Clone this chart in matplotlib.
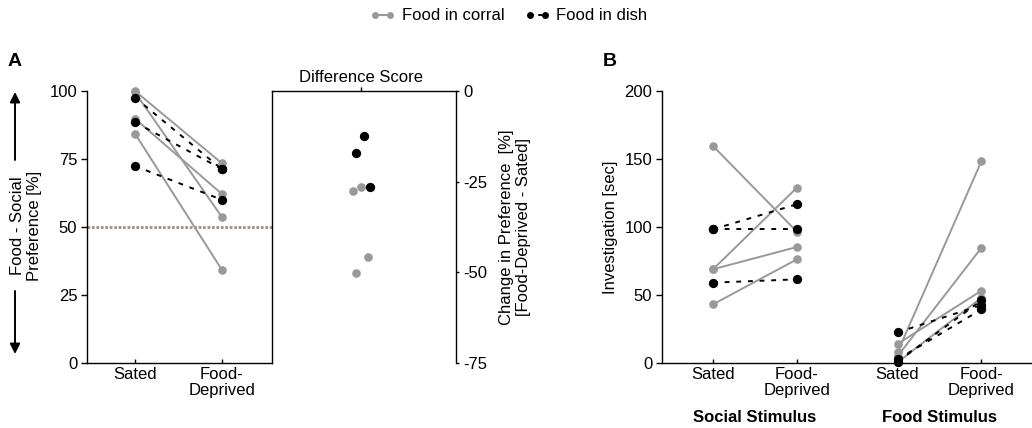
import matplotlib
matplotlib.use("Agg")
import matplotlib.pyplot as plt
from matplotlib.lines import Line2D
from matplotlib.patches import FancyArrowPatch

plt.rcParams['font.family'] = ['Liberation Sans', 'DejaVu Sans']
plt.rcParams['font.size'] = 12

GRAY = "#999999"
BLACK = "#000000"

# panel A: food - social preference [%]
corral_sated = [100.0, 89.8, 99.5, 84.3]
corral_deprived = [73.4, 62.1, 53.6, 34.2]
dish_sated = [97.6, 88.5, 72.4]
dish_deprived = [71.2, 71.3, 60.0]

# horizontal spread of the difference score dots
corral_jitter = [0.0, -0.09, 0.07, -0.06]
dish_jitter = [0.09, -0.06, 0.03]

# panel B: investigation [sec]
soc_corral_sated = [159.6, 68.9, 68.9, 43.1]
soc_corral_deprived = [96.6, 128.9, 85.3, 76.2]
soc_dish_sated = [98.3, 98.3, 59.1]
soc_dish_deprived = [116.7, 98.3, 61.5]
food_corral_sated = [8.0, 5.0, 14.0, 0.5]
food_corral_deprived = [148.5, 84.8, 53.2, 48.0]
food_dish_sated = [22.5, 2.7, 1.0]
food_dish_deprived = [42.6, 39.4, 46.0]

cond_labels = ["Sated", "Food-\nDeprived"]

fig = plt.figure(figsize=(10.32, 4.28), dpi=100)
W, H = 1032, 428
DASH = (0, (2.5, 3.5))


def ax_at(x0, x1, y0, y1):
    return fig.add_axes([x0 / W, 1 - y1 / H, (x1 - x0) / W, (y1 - y0) / H])


def pairs(ax, x, a, b, color, ls, ms):
    for s, d in zip(a, b):
        ax.plot(x, [s, d], color=color, ls=ls, lw=1.4, marker="o", ms=ms,
                mec="none", clip_on=False, zorder=3 if color == BLACK else 2)


# ---- panel A, left
axA = ax_at(87, 272, 91, 363)
pairs(axA, [0, 1], corral_sated, corral_deprived, GRAY, "-", 6.2)
pairs(axA, [0, 1], dish_sated, dish_deprived, BLACK, DASH, 6.7)
axA.axhline(50, color="#a38f7f", lw=2, ls=(0, (1, 0.6)), zorder=1)
axA.set_xlim(-0.552, 1.575)
axA.set_ylim(0, 100)
axA.set_yticks([0, 25, 50, 75, 100])
axA.set_xticks([0, 1])
axA.set_xticklabels(cond_labels, linespacing=1.05)
axA.spines[["top", "right"]].set_visible(False)
axA.tick_params(axis="y", direction="out", length=4, width=1, pad=3)
axA.tick_params(axis="x", direction="in", length=3, width=1, pad=3)

# ---- panel A, difference score
axD = ax_at(272, 456, 91, 363)
for d, s, j in zip(corral_deprived, corral_sated, corral_jitter):
    axD.plot(j, d - s, "o", color=GRAY, ms=6.2, mec="none")
for d, s, j in zip(dish_deprived, dish_sated, dish_jitter):
    axD.plot(j, d - s, "o", color=BLACK, ms=6.7, mec="none")
axD.set_xlim(-0.97, 1.03)
axD.set_ylim(-75, 0)
axD.spines["bottom"].set_visible(False)
axD.yaxis.tick_right()
axD.set_yticks([0, -25, -50, -75])
axD.set_yticklabels(["0", "-25", "-50", "-75"])
axD.tick_params(axis="y", direction="out", length=2, width=1, pad=3)
axD.xaxis.tick_top()
axD.set_xticks([0])
axD.set_xticklabels(["Difference Score"])
axD.tick_params(axis="x", direction="out", length=3, width=1, pad=1)
fig.text(515 / W, 1 - 227 / H, "Change in Preference  [%]\n[Food-Deprived - Sated]",
         rotation=90, ha="center", va="center", linespacing=1.1)

# arrow label on the left
fig.text(26 / W, 1 - 226 / H, "Food - Social\nPreference [%]", rotation=90,
         ha="center", va="center", linespacing=1.15)
for y_from, y_to in [(160, 92), (291, 354)]:
    fig.add_artist(FancyArrowPatch(
        (15 / W, 1 - y_from / H), (15 / W, 1 - y_to / H), transform=fig.transFigure,
        arrowstyle="-|>,head_length=6,head_width=3", color="black", lw=1.4,
        shrinkA=0, shrinkB=0))

# ---- panel B
axB = ax_at(662, 1031, 91, 363)
pairs(axB, [0, 1], soc_corral_sated, soc_corral_deprived, GRAY, "-", 6.2)
pairs(axB, [0, 1], soc_dish_sated, soc_dish_deprived, BLACK, DASH, 6.7)
pairs(axB, [2.2, 3.2], food_corral_sated, food_corral_deprived, GRAY, "-", 6.2)
pairs(axB, [2.2, 3.2], food_dish_sated, food_dish_deprived, BLACK, DASH, 6.7)
axB.set_xlim(-0.607, 3.79)
axB.set_ylim(0, 200)
axB.set_yticks([0, 50, 100, 150, 200])
axB.set_xticks([0, 1, 2.2, 3.2])
axB.set_xticklabels(cond_labels * 2, linespacing=1.05)
axB.spines[["top", "right"]].set_visible(False)
axB.tick_params(axis="y", direction="out", length=4, width=1, pad=3)
axB.tick_params(axis="x", direction="in", length=3, width=1, pad=3)
fig.text(610 / W, 1 - 227 / H, "Investigation [sec]", rotation=90,
         ha="center", va="center")
fig.text(755 / W, 1 - 417 / H, "Social Stimulus", ha="center", va="center",
         fontweight="bold")
fig.text(940 / W, 1 - 417 / H, "Food Stimulus", ha="center", va="center",
         fontweight="bold")

for ax in (axA, axD, axB):
    for sp in ax.spines.values():
        sp.set_linewidth(1)

fig.text(8 / W, 1 - 62 / H, "A", fontsize=14, fontweight="bold", va="center")
fig.text(603 / W, 1 - 62 / H, "B", fontsize=14, fontweight="bold", va="center")

handles = [
    Line2D([], [], color=GRAY, lw=1.4, marker="o", ms=5, mec="none"),
    Line2D([], [], color=BLACK, lw=1.4, ls=(0, (2, 2.2)), marker="o", ms=5, mec="none"),
]
fig.legend(handles, ["Food in corral", "Food in dish"], loc="center",
           bbox_to_anchor=(509 / W, 1 - 16 / H), ncol=2, frameon=False,
           numpoints=2, handlelength=1.5, handletextpad=0.4, columnspacing=1.2)

fig.savefig("out.png", dpi=100)
